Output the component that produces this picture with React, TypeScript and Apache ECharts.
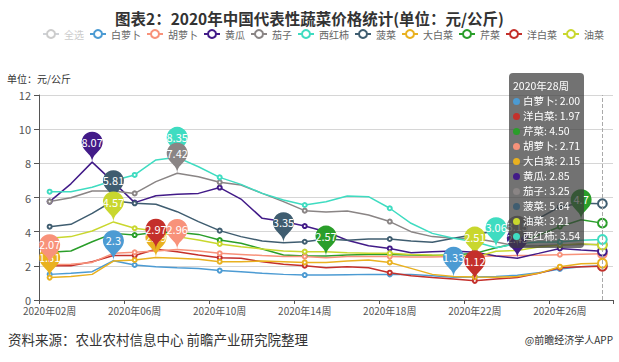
import React, { useEffect, useRef } from 'react';
import * as echarts from 'echarts';

const weeks = [
  '2020年02周', '2020年03周', '2020年04周', '2020年05周', '2020年06周', '2020年07周', '2020年08周',
  '2020年09周', '2020年10周', '2020年11周', '2020年12周', '2020年13周', '2020年14周', '2020年15周',
  '2020年16周', '2020年17周', '2020年18周', '2020年19周', '2020年20周', '2020年21周', '2020年22周',
  '2020年23周', '2020年24周', '2020年25周', '2020年26周', '2020年27周', '2020年28周',
];

const baiLuobo = [1.50, 1.56, 1.66, 2.30, 2.05, 1.95, 1.89, 1.85, 1.72, 1.66, 1.56, 1.50, 1.46, 1.46, 1.48, 1.50, 1.50, 1.50, 1.42, 1.33, 1.35, 1.38, 1.45, 1.60, 1.82, 1.95, 2.00];
const yangBaicai = [2.01, 2.01, 2.24, 2.60, 2.60, 2.97, 2.83, 2.63, 2.48, 2.44, 2.24, 2.09, 2.01, 1.89, 1.95, 1.89, 1.60, 1.42, 1.31, 1.23, 1.12, 1.23, 1.31, 1.56, 1.89, 1.95, 1.97];
const qincai = [2.79, 2.87, 3.41, 3.90, 3.80, 3.96, 3.96, 3.84, 3.51, 3.32, 2.99, 2.63, 2.58, 2.57, 2.63, 2.67, 2.67, 2.63, 2.60, 2.63, 2.73, 3.06, 3.32, 3.80, 4.29, 4.70, 4.50];
const huLuobo = [2.07, 2.09, 2.20, 2.73, 2.79, 2.87, 2.96, 2.87, 2.73, 2.67, 2.60, 2.54, 2.54, 2.48, 2.54, 2.54, 2.54, 2.52, 2.52, 2.54, 2.56, 2.58, 2.60, 2.62, 2.65, 2.68, 2.71];
const daBaicai = [1.31, 1.37, 1.50, 2.28, 2.34, 2.49, 2.45, 2.38, 2.24, 2.24, 2.28, 2.24, 2.20, 2.20, 2.28, 2.34, 2.20, 1.85, 1.50, 1.37, 1.34, 1.33, 1.37, 1.56, 1.95, 2.12, 2.15];
const huanggua = [5.76, 6.80, 8.07, 6.90, 5.70, 6.10, 6.19, 6.24, 6.58, 5.91, 4.78, 4.59, 4.33, 4.00, 3.50, 3.18, 3.02, 2.77, 2.83, 2.87, 2.80, 2.58, 2.45, 2.73, 3.02, 2.93, 2.85];
const qiezi = [5.76, 5.99, 6.38, 6.38, 6.24, 6.93, 7.42, 7.22, 6.89, 6.73, 6.24, 5.76, 5.23, 5.15, 5.21, 4.98, 4.59, 4.00, 3.71, 3.61, 3.60, 3.40, 3.15, 3.18, 3.22, 3.25, 3.25];
const bocai = [4.29, 4.43, 5.07, 5.81, 5.66, 5.60, 5.17, 4.59, 4.06, 3.71, 3.45, 3.35, 3.41, 3.57, 3.50, 3.57, 3.57, 3.45, 3.38, 3.61, 3.84, 4.04, 4.39, 4.78, 5.46, 5.66, 5.64];
const youcai = [3.61, 3.71, 4.04, 4.57, 4.20, 4.04, 3.71, 3.51, 3.28, 3.12, 2.99, 2.87, 2.83, 2.83, 2.77, 2.73, 2.73, 2.67, 2.63, 2.60, 2.51, 2.85, 2.90, 3.10, 3.20, 3.30, 3.21];
const xihongshi = [6.34, 6.34, 6.60, 7.00, 7.32, 8.20, 8.35, 7.80, 7.18, 6.77, 6.24, 5.85, 5.56, 5.75, 6.09, 6.05, 5.37, 4.49, 3.90, 3.61, 3.41, 3.06, 3.30, 3.40, 3.40, 3.50, 3.54];

const seriesNames = ['白萝卜', '洋白菜', '芹菜', '胡萝卜', '大白菜', '黄瓜', '茄子', '菠菜', '油菜', '西红柿'];
const seriesValues = [baiLuobo, yangBaicai, qincai, huLuobo, daBaicai, huanggua, qiezi, bocai, youcai, xihongshi];
const seriesColors = ['#4c9bd3', '#c4302b', '#2a9e2a', '#f8927a', '#e9b120', '#421b88', '#8a8585', '#3f5d70', '#c9d72e', '#3fdcc1'];
const markPointZ = [6, 7, 6, 6, 5, 6, 7, 5, 6, 5];

const legendOrder = ['全选', '白萝卜', '胡萝卜', '黄瓜', '茄子', '西红柿', '菠菜', '大白菜', '芹菜', '洋白菜', '油菜'];

const yMin = 0;
const yMax = 12;
const yInterval = 2;

const title = '图表2：2020年中国代表性蔬菜价格统计(单位：元/公斤)';
const unitLabel = '单位：元/公斤';
const sourceText = '资料来源：农业农村信息中心 前瞻产业研究院整理';
const brandText = '@前瞻经济学人APP';

const FONT = '"Noto Sans CJK SC", "Noto Sans", sans-serif';

export default function App() {
  const ref = useRef<HTMLDivElement>(null);

  useEffect(() => {
    document.body.style.margin = '0';
    if (!ref.current) return;
    const chart = echarts.init(ref.current, undefined, { renderer: 'svg' });
    const lastIndex = weeks.length - 1;

    const series: any[] = seriesNames.map((name, i) => ({
      name,
      type: 'line',
      data: seriesValues[i],
      color: seriesColors[i],
      symbol: 'emptyCircle',
      symbolSize: (_v: any, p: any) =>
        p.dataIndex === lastIndex ? 8 : p.dataIndex % 4 === 0 ? 4 : 0,
      showAllSymbol: true,
      lineStyle: { width: 1.5 },
      itemStyle: { borderWidth: 1.2 },
      emphasis: { disabled: true },
      markPoint: {
        symbol: 'pin',
        symbolSize: 35,
        z: markPointZ[i],
        label: { color: '#fff', fontSize: 11, fontFamily: FONT, offset: [0, -2] },
        itemStyle: { color: seriesColors[i] },
        data: [{ type: 'max' }, { type: 'min' }],
      },
    }));
    series.push({ name: '全选', type: 'line', data: [], color: '#cccccc' });

    const selected: Record<string, boolean> = { '全选': false };

    chart.setOption({
      animation: false,
      backgroundColor: '#ffffff',
      textStyle: { fontFamily: FONT },
      title: {
        text: title,
        left: 'center',
        top: 10,
        padding: 0,
        textStyle: { fontSize: 15.5, lineHeight: 15, fontWeight: 'bold', color: '#333', fontFamily: FONT },
      },
      legend: {
        data: legendOrder,
        selected,
        left: 42,
        top: 29,
        padding: 0,
        width: 577,
        itemWidth: 16,
        itemHeight: 10,
        itemGap: 5,
        textStyle: { fontSize: 10, color: '#666', fontFamily: FONT },
        inactiveColor: '#ccc',
      },
      grid: { left: 39, right: 6, top: 95, bottom: 62, containLabel: false },
      tooltip: {
        trigger: 'axis',
        alwaysShowContent: true,
        position: [509, 73],
        backgroundColor: 'rgba(60,60,60,0.72)',
        borderWidth: 0,
        borderRadius: 4,
        padding: [5, 4],
        extraCssText: 'box-shadow:none;',
        textStyle: { color: '#fff', fontSize: 10.5, fontFamily: FONT },
        axisPointer: { type: 'line', lineStyle: { color: '#aaa', width: 1 } },
        formatter: (params: any) => {
          const list = Array.isArray(params) ? params : [params];
          let html = `<div style="line-height:15px;font-size:10.5px">${list[0].axisValue}</div>`;
          list.forEach((p: any) => {
            html += `<div style="line-height:15px;white-space:nowrap;font-size:10.5px"><span style="display:inline-block;width:7px;height:7px;border-radius:50%;background:${p.color};margin-right:3px;vertical-align:middle;position:relative;top:-1px"></span>${p.seriesName}: ${Number(p.value).toFixed(2)}</div>`;
          });
          return html;
        },
      },
      xAxis: {
        type: 'category',
        data: weeks,
        boundaryGap: true,
        axisLine: { lineStyle: { color: '#555' } },
        axisTick: { show: true, interval: 3, length: 4, lineStyle: { color: '#555' } },
        axisLabel: { interval: 3, fontSize: 10, color: '#555', margin: 5, fontFamily: FONT },
      },
      yAxis: {
        type: 'value',
        min: yMin,
        max: yMax,
        interval: yInterval,
        name: unitLabel,
        nameLocation: 'end',
        nameGap: 12,
        nameTextStyle: { fontSize: 10, color: '#333', fontFamily: FONT },
        axisLine: { show: true, lineStyle: { color: '#555' } },
        axisTick: { show: true, length: 5, lineStyle: { color: '#555' } },
        axisLabel: { fontSize: 11, color: '#555', margin: 8, fontFamily: FONT },
        splitLine: { lineStyle: { color: '#d6d6d6' } },
      },
      graphic: [
        {
          type: 'text',
          x: 8,
          y: 339,
          style: { text: sourceText, fontSize: 13.5, fill: '#333', fontFamily: FONT, align: 'left', verticalAlign: 'middle' },
        },
        {
          type: 'text',
          x: 613,
          y: 339,
          style: { text: brandText, fontSize: 10, fill: '#333', fontFamily: FONT, align: 'right', verticalAlign: 'middle' },
        },
      ],
      series,
    });

    chart.dispatchAction({ type: 'showTip', seriesIndex: 0, dataIndex: lastIndex });

    return () => chart.dispose();
  }, []);

  return <div ref={ref} style={{ width: 619, height: 362, background: '#fff' }} />;
}
